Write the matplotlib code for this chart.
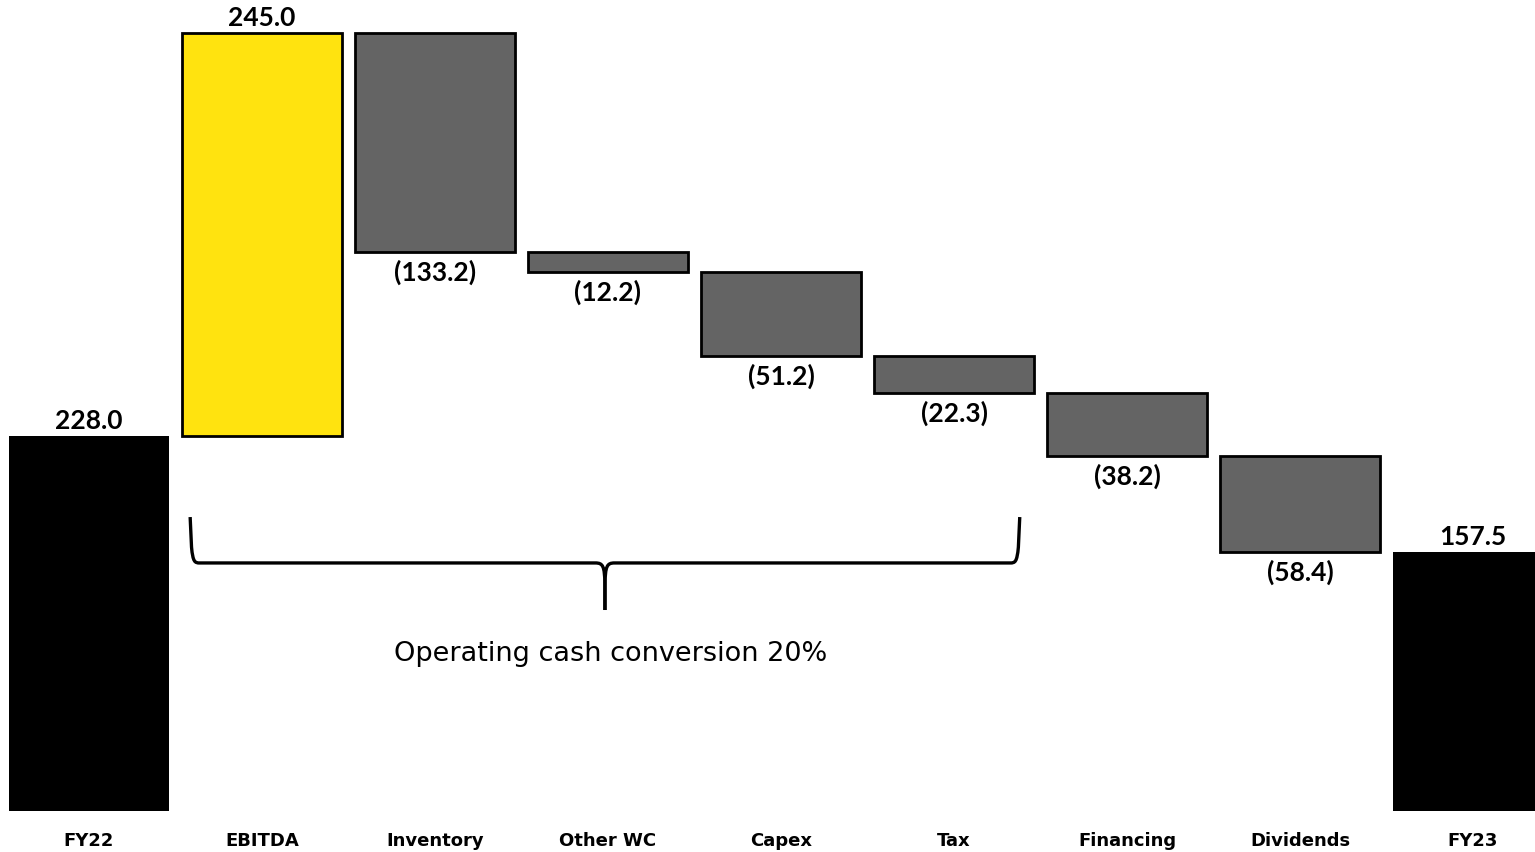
import matplotlib
matplotlib.use("Agg")
import matplotlib.pyplot as plt
from matplotlib.path import Path
from matplotlib.patches import PathPatch
import numpy as np

categories = ["FY22", "EBITDA", "Inventory", "Other WC", "Capex", "Tax", "Financing", "Dividends", "FY23"]
start_value = 228.0
changes = [245.0, -133.2, -12.2, -51.2, -22.3, -38.2, -58.4]
end_value = 157.5
annotation_text = "Operating cash conversion 20%"

BLACK = "#000000"
GREY = "#646464"
YELLOW = "#FFE30F"

fig = plt.figure(figsize=(15.35, 8.52), dpi=100)
ax = fig.add_axes([0, 0, 1, 1])
ax.set_xlim(-0.514, 8.358)
ax.set_ylim(-24.9, 493.0)
ax.axis("off")

width = 0.92
val_font = dict(family=["Lato", "DejaVu Sans"], fontweight="bold", fontsize=19)
cat_font = dict(family=["DejaVu Sans"], fontweight="bold", fontsize=13)

# Start bar
ax.bar(0, start_value, width=width, color=BLACK, edgecolor=BLACK, linewidth=0)
ax.text(0, start_value + 2.0, f"{start_value:.1f}", ha="center", va="bottom", **val_font)

running = start_value
for i, ch in enumerate(changes, start=1):
    if ch >= 0:
        ax.bar(i, ch, bottom=running, width=width, color=YELLOW, edgecolor=BLACK, linewidth=2)
        ax.text(i, running + ch + 2.0, f"{ch:.1f}", ha="center", va="bottom", **val_font)
    else:
        ax.bar(i, ch, bottom=running, width=width, color=GREY, edgecolor=BLACK, linewidth=2)
        ax.text(i, running + ch - 4.5, f"({-ch:.1f})", ha="center", va="top", **val_font)
    running += ch

n = len(categories) - 1
ax.bar(n, end_value, width=width, color=BLACK, edgecolor=BLACK, linewidth=0)
ax.text(n, end_value + 2.0, f"{end_value:.1f}", ha="center", va="bottom", **val_font)

for i, c in enumerate(categories):
    ax.text(i, -18.3, c, ha="center", va="center", **cat_font)

# Curly brace under EBITDA..Tax
x0 = 1 - width / 2 + 0.045
x1 = 5 + width / 2 - 0.08
xm = (x0 + x1) / 2
ytop, ymid, ytip = 178.7, 150.8, 122.2
dx = 0.055
dy = 6.0
verts = [
    (x0, ytop), (x0 + 0.008, ymid + dy * 1.6),
    (x0 + 0.016, ymid + 0.5), (x0 + dx * 0.5, ymid), (x0 + dx, ymid),
    (xm - dx, ymid),
    (xm - dx * 0.2, ymid), (xm - 0.002, ymid - 2.0), (xm, ymid - dy * 2.2),
    (xm, ytip),
]
codes = [Path.MOVETO, Path.LINETO,
         Path.CURVE4, Path.CURVE4, Path.CURVE4,
         Path.LINETO,
         Path.CURVE4, Path.CURVE4, Path.CURVE4,
         Path.LINETO]
verts_r = [(x1 - (x - x0), y) for (x, y) in verts]
for vs in (verts, verts_r):
    ax.add_patch(PathPatch(Path(vs, codes), fill=False, lw=2.4, edgecolor=BLACK,
                           capstyle="butt", joinstyle="round"))

ax.text(xm + 0.03, 95.4, annotation_text, ha="center", va="center",
        family=["DejaVu Sans"], fontsize=19.5)

fig.savefig("out.png", dpi=100)
